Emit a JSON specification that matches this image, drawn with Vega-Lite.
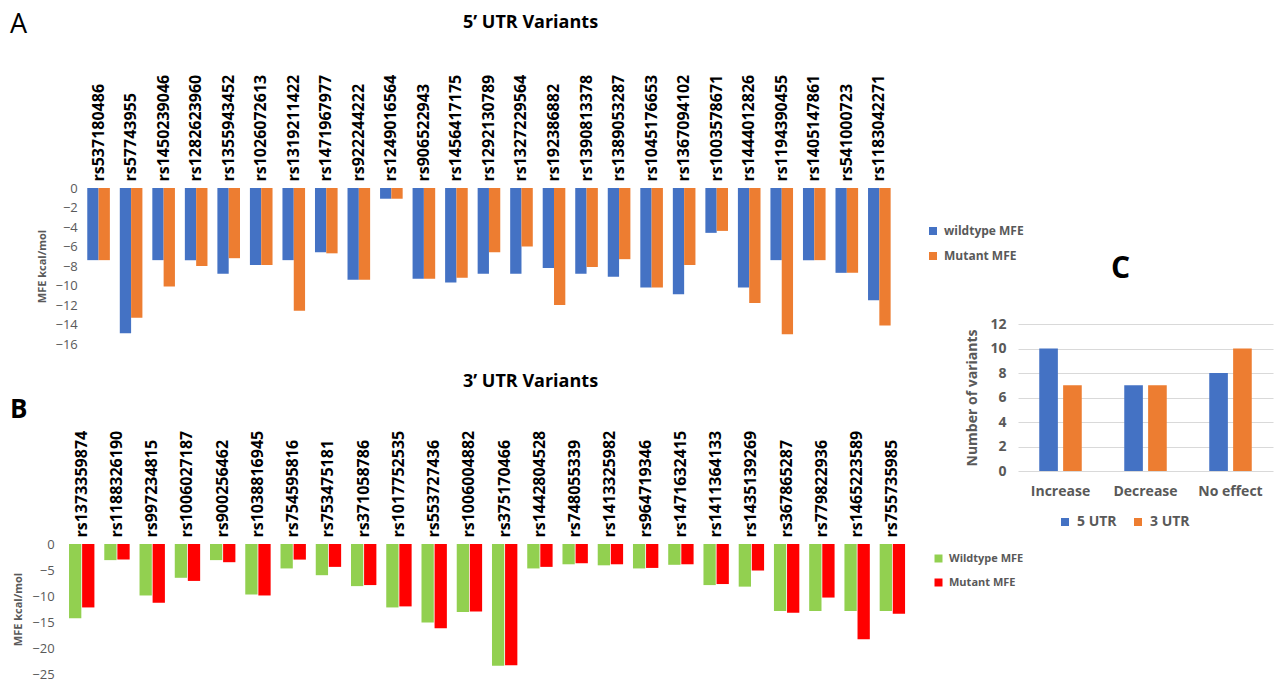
{
  "$schema": "https://vega.github.io/schema/vega-lite/v6.json",
  "width": 1277,
  "height": 681,
  "autosize": "none",
  "padding": 0,
  "background": "white",
  "config": {
    "view": {"stroke": null},
    "font": "Open Sans",
    "axis": {"domain": false, "ticks": false, "grid": false}
  },
  "title": {
    "text": "A",
    "subtitle": "B",
    "anchor": "start",
    "frame": "group",
    "orient": "top",
    "offset": -424,
    "dx": 10,
    "font": "Open Sans",
    "fontSize": 27,
    "fontWeight": "normal",
    "color": "#000000",
    "subtitleFont": "Open Sans",
    "subtitleFontSize": 26,
    "subtitleFontWeight": "bold",
    "subtitleColor": "#000000",
    "subtitlePadding": 358
  },
  "layer": [
    {
      "data": {
        "values": [
          {"variant": "rs537180486", "wildtype MFE": -7.4, "Mutant MFE": -7.4},
          {"variant": "rs57743955", "wildtype MFE": -14.9, "Mutant MFE": -13.3},
          {"variant": "rs1450239046", "wildtype MFE": -7.4, "Mutant MFE": -10.1},
          {"variant": "rs1282623960", "wildtype MFE": -7.4, "Mutant MFE": -8.0},
          {"variant": "rs1355943452", "wildtype MFE": -8.8, "Mutant MFE": -7.2},
          {"variant": "rs1026072613", "wildtype MFE": -7.9, "Mutant MFE": -7.9},
          {"variant": "rs1319211422", "wildtype MFE": -7.4, "Mutant MFE": -12.6},
          {"variant": "rs1471967977", "wildtype MFE": -6.6, "Mutant MFE": -6.7},
          {"variant": "rs922244222", "wildtype MFE": -9.4, "Mutant MFE": -9.4},
          {"variant": "rs1249016564", "wildtype MFE": -1.1, "Mutant MFE": -1.1},
          {"variant": "rs906522943", "wildtype MFE": -9.3, "Mutant MFE": -9.3},
          {"variant": "rs1456417175", "wildtype MFE": -9.7, "Mutant MFE": -9.2},
          {"variant": "rs1292130789", "wildtype MFE": -8.8, "Mutant MFE": -6.6},
          {"variant": "rs1327229564", "wildtype MFE": -8.8, "Mutant MFE": -6.0},
          {"variant": "rs192386882", "wildtype MFE": -8.2, "Mutant MFE": -12.0},
          {"variant": "rs1390813378", "wildtype MFE": -8.8, "Mutant MFE": -8.1},
          {"variant": "rs1389053287", "wildtype MFE": -9.1, "Mutant MFE": -7.3},
          {"variant": "rs1045176653", "wildtype MFE": -10.2, "Mutant MFE": -10.2},
          {"variant": "rs1367094102", "wildtype MFE": -10.9, "Mutant MFE": -7.9},
          {"variant": "rs1003578671", "wildtype MFE": -4.6, "Mutant MFE": -4.4},
          {"variant": "rs1444012826", "wildtype MFE": -10.2, "Mutant MFE": -11.8},
          {"variant": "rs1194390455", "wildtype MFE": -7.4, "Mutant MFE": -15.0},
          {"variant": "rs1405147861", "wildtype MFE": -7.4, "Mutant MFE": -7.4},
          {"variant": "rs541000723", "wildtype MFE": -8.7, "Mutant MFE": -8.7},
          {"variant": "rs1183042271", "wildtype MFE": -11.5, "Mutant MFE": -14.1}
        ]
      },
      "transform": [{"fold": ["wildtype MFE", "Mutant MFE"], "as": ["type", "mfe"]}],
      "mark": {"type": "bar"},
      "encoding": {
        "x": {
          "field": "variant", "type": "nominal", "sort": null,
          "scale": {"range": [82.3, 895.6], "paddingInner": 0.305, "paddingOuter": 0.1525},
          "axis": {
            "orient": "top", "offset": -188, "labelAngle": -90,
            "labelFontSize": 16, "labelFontWeight": "bold", "labelColor": "#000000", "labelPadding": 7,
            "title": "5\u2019 UTR Variants", "titleX": 530, "titleY": -166,
            "titleBaseline": "middle", "titleAlign": "center",
            "titleFontSize": 18, "titleFontWeight": "bold", "titleColor": "#000000"
          }
        },
        "xOffset": {
          "field": "type", "type": "nominal", "sort": ["wildtype MFE", "Mutant MFE"],
          "scale": {"paddingInner": 0, "paddingOuter": 0}
        },
        "y": {
          "field": "mfe", "type": "quantitative",
          "scale": {"domain": [-16, 0], "range": [344, 188], "nice": false, "zero": true},
          "axis": {
            "orient": "left", "offset": -82.3,
            "values": [0, -2, -4, -6, -8, -10, -12, -14, -16],
            "labelFontSize": 13, "labelColor": "#595959", "labelPadding": 5,
            "title": "MFE  kcal/mol", "titleFontSize": 11, "titleFontWeight": "bold",
            "titleColor": "#595959", "titlePadding": 8
          }
        },
        "color": {
          "field": "type", "type": "nominal",
          "scale": {"domain": ["wildtype MFE", "Mutant MFE"], "range": ["#4472C4", "#ED7D31"]},
          "legend": {
            "orient": "none", "legendX": 927, "legendY": 225, "title": null,
            "symbolType": "square", "symbolSize": 64, "symbolStrokeWidth": 0,
            "labelFontSize": 12, "labelFontWeight": "bold", "labelColor": "#595959",
            "rowPadding": 13, "labelOffset": 5
          }
        }
      }
    },
    {
      "data": {
        "values": [
          {"variant": "rs1373359874", "Wildtype MFE": -14.3, "Mutant MFE": -12.2},
          {"variant": "rs1188326190", "Wildtype MFE": -3.1, "Mutant MFE": -3.0},
          {"variant": "rs997234815", "Wildtype MFE": -9.9, "Mutant MFE": -11.3},
          {"variant": "rs1006027187", "Wildtype MFE": -6.5, "Mutant MFE": -7.1},
          {"variant": "rs900256462", "Wildtype MFE": -3.1, "Mutant MFE": -3.5},
          {"variant": "rs1038816945", "Wildtype MFE": -9.7, "Mutant MFE": -9.9},
          {"variant": "rs754595816", "Wildtype MFE": -4.7, "Mutant MFE": -3.0},
          {"variant": "rs753475181", "Wildtype MFE": -6.0, "Mutant MFE": -4.4},
          {"variant": "rs371058786", "Wildtype MFE": -8.1, "Mutant MFE": -7.9},
          {"variant": "rs1017752535", "Wildtype MFE": -12.2, "Mutant MFE": -12.0},
          {"variant": "rs553727436", "Wildtype MFE": -15.1, "Mutant MFE": -16.2},
          {"variant": "rs1006004882", "Wildtype MFE": -13.1, "Mutant MFE": -13.0},
          {"variant": "rs375170466", "Wildtype MFE": -23.4, "Mutant MFE": -23.3},
          {"variant": "rs1442804528", "Wildtype MFE": -4.7, "Mutant MFE": -4.4},
          {"variant": "rs748055339", "Wildtype MFE": -3.9, "Mutant MFE": -3.7},
          {"variant": "rs1413325982", "Wildtype MFE": -4.1, "Mutant MFE": -3.9},
          {"variant": "rs964719346", "Wildtype MFE": -4.7, "Mutant MFE": -4.6},
          {"variant": "rs1471632415", "Wildtype MFE": -4.0, "Mutant MFE": -3.9},
          {"variant": "rs1411364133", "Wildtype MFE": -7.9, "Mutant MFE": -7.7},
          {"variant": "rs1435139269", "Wildtype MFE": -8.2, "Mutant MFE": -5.1},
          {"variant": "rs367865287", "Wildtype MFE": -12.9, "Mutant MFE": -13.2},
          {"variant": "rs779822936", "Wildtype MFE": -12.9, "Mutant MFE": -10.3},
          {"variant": "rs1465223589", "Wildtype MFE": -12.9, "Mutant MFE": -18.3},
          {"variant": "rs755735985", "Wildtype MFE": -12.9, "Mutant MFE": -13.4}
        ]
      },
      "transform": [{"fold": ["Wildtype MFE", "Mutant MFE"], "as": ["type", "mfe"]}],
      "mark": {"type": "bar"},
      "encoding": {
        "x": {
          "field": "variant", "type": "nominal", "sort": null,
          "scale": {"range": [64.1, 910], "paddingInner": 0.28, "paddingOuter": 0.14},
          "axis": {
            "orient": "top", "offset": -544, "labelAngle": -90,
            "labelFontSize": 16, "labelFontWeight": "bold", "labelColor": "#000000", "labelPadding": 7,
            "title": "3\u2019 UTR Variants", "titleX": 530, "titleY": -163,
            "titleBaseline": "middle", "titleAlign": "center",
            "titleFontSize": 18, "titleFontWeight": "bold", "titleColor": "#000000"
          }
        },
        "xOffset": {
          "field": "type", "type": "nominal", "sort": ["Wildtype MFE", "Mutant MFE"],
          "scale": {"paddingInner": 0.06, "paddingOuter": 0}
        },
        "y": {
          "field": "mfe", "type": "quantitative",
          "scale": {"domain": [-25, 0], "range": [674, 544], "nice": false, "zero": true},
          "axis": {
            "orient": "left", "offset": -64.1,
            "values": [0, -5, -10, -15, -20, -25],
            "labelFontSize": 13, "labelColor": "#595959", "labelPadding": 10,
            "title": "MFE kcal/mol", "titleFontSize": 11, "titleFontWeight": "bold",
            "titleColor": "#595959", "titlePadding": 8
          }
        },
        "color": {
          "field": "type", "type": "nominal",
          "scale": {"domain": ["Wildtype MFE", "Mutant MFE"], "range": ["#92D050", "#FF0000"]},
          "legend": {
            "orient": "none", "legendX": 933, "legendY": 553, "title": null,
            "symbolType": "square", "symbolSize": 64, "symbolStrokeWidth": 0,
            "labelFontSize": 11, "labelFontWeight": "bold", "labelColor": "#595959",
            "rowPadding": 12, "labelOffset": 5
          }
        }
      }
    },
    {
      "data": {
        "values": [
          {"effect": "Increase", "5 UTR": 10, "3 UTR": 7},
          {"effect": "Decrease", "5 UTR": 7, "3 UTR": 7},
          {"effect": "No effect", "5 UTR": 8, "3 UTR": 10}
        ]
      },
      "transform": [{"fold": ["5 UTR", "3 UTR"], "as": ["utr", "count"]}],
      "mark": {"type": "bar"},
      "encoding": {
        "x": {
          "field": "effect", "type": "nominal", "sort": null,
          "scale": {"range": [1018, 1273], "paddingInner": 0.5, "paddingOuter": 0.25},
          "axis": {
            "orient": "bottom", "offset": -210, "labelAngle": 0,
            "labelFontSize": 14, "labelFontWeight": "bold", "labelColor": "#595959", "labelPadding": 13,
            "title": "C", "titleX": 1120, "titleY": -203, "titleAngle": 0,
            "titleBaseline": "middle", "titleAlign": "center",
            "titleFontSize": 30, "titleFontWeight": "bold", "titleColor": "#000000"
          }
        },
        "xOffset": {
          "field": "utr", "type": "nominal", "sort": ["5 UTR", "3 UTR"],
          "scale": {"paddingInner": 0.22, "paddingOuter": 0}
        },
        "y": {
          "field": "count", "type": "quantitative",
          "scale": {"domain": [0, 12], "range": [471, 324], "nice": false},
          "axis": {
            "orient": "left", "offset": -1018,
            "values": [0, 2, 4, 6, 8, 10, 12],
            "grid": true, "gridColor": "#D9D9D9", "gridWidth": 1,
            "labelFontSize": 14, "labelFontWeight": "bold", "labelColor": "#595959", "labelPadding": 12,
            "title": "Number of variants", "titleFontSize": 14, "titleFontWeight": "bold",
            "titleColor": "#595959", "titlePadding": 10
          }
        },
        "color": {
          "field": "utr", "type": "nominal",
          "scale": {"domain": ["5 UTR", "3 UTR"], "range": ["#4472C4", "#ED7D31"]},
          "legend": {
            "orient": "none", "legendX": 1058, "legendY": 515, "title": null,
            "direction": "horizontal",
            "symbolType": "square", "symbolSize": 64, "symbolStrokeWidth": 0,
            "labelFontSize": 14, "labelFontWeight": "bold", "labelColor": "#595959",
            "columnPadding": 14, "labelOffset": 5
          }
        }
      }
    }
  ],
  "resolve": {
    "scale": {"x": "independent", "y": "independent", "xOffset": "independent", "color": "independent"},
    "axis": {"x": "independent", "y": "independent"},
    "legend": {"color": "independent"}
  }
}
